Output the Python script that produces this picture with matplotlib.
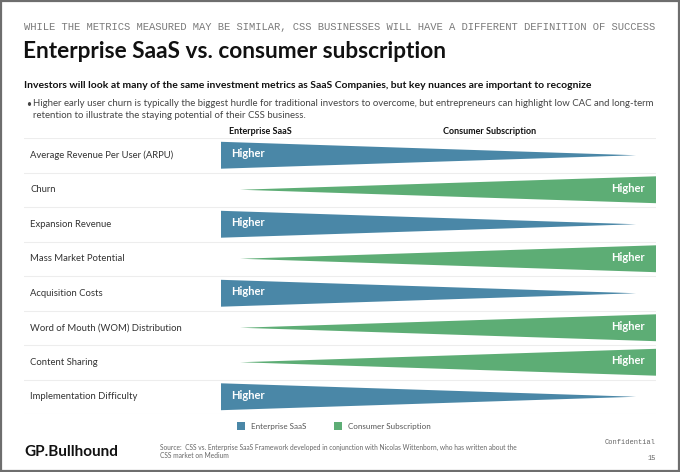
import matplotlib.pyplot as plt
from matplotlib.patches import Rectangle

metrics = [
    'Average Revenue Per User (ARPU)',
    'Churn',
    'Expansion Revenue',
    'Mass Market Potential',
    'Acquisition Costs',
    'Word of Mouth (WOM) Distribution',
    'Content Sharing',
    'Implementation Difficulty',
]
higher_side = [
    'Enterprise SaaS',
    'Consumer Subscription',
    'Enterprise SaaS',
    'Consumer Subscription',
    'Enterprise SaaS',
    'Consumer Subscription',
    'Consumer Subscription',
    'Enterprise SaaS',
]
sides = ['Enterprise SaaS', 'Consumer Subscription']
side_colors = {'Enterprise SaaS': '#4A87A7', 'Consumer Subscription': '#5DAD75'}

W, H = 680, 472
BODY = ['Lato', 'DejaVu Sans']
MONO = ['Liberation Mono', 'DejaVu Sans Mono']


def main():
    fig = plt.figure(figsize=(W / 100, H / 100), dpi=100)

    def fx(px):
        return px / W

    def fy(py):
        return 1 - py / H

    # slide frame
    fig.patches.append(Rectangle((0.001, 0.002), 0.997, 0.995, transform=fig.transFigure,
                                 fill=False, edgecolor='#6E6E6E', linewidth=1.6))

    fig.text(fx(24), fy(27), 'WHILE THE METRICS MEASURED MAY BE SIMILAR, CSS BUSINESSES WILL HAVE A DIFFERENT DEFINITION OF SUCCESS',
             family=MONO, fontsize=7.58, color='#7A7A7A', va='center')
    fig.text(fx(23), fy(51), 'Enterprise SaaS vs. consumer subscription',
             family=BODY, fontsize=16.3, weight='bold', color='#111111', va='center')
    fig.text(fx(24), fy(86), 'Investors will look at many of the same investment metrics as SaaS Companies, '
             'but key nuances are important to recognize',
             family=BODY, fontsize=7.5, weight='bold', color='#111111', va='center')
    fig.text(fx(26), fy(104), '\u2022', family=BODY, fontsize=6.2, color='#444444', va='center')
    fig.text(fx(33), fy(104), 'Higher early user churn is typically the biggest hurdle for traditional investors to overcome, '
             'but entrepreneurs can highlight low CAC and long-term',
             family=BODY, fontsize=6.9, color='#444444', va='center')
    fig.text(fx(33), fy(115), 'retention to illustrate the staying potential of their CSS business.',
             family=BODY, fontsize=6.9, color='#444444', va='center')

    # chart area
    ax = fig.add_axes([fx(24), fy(414), fx(656) - fx(24), fy(138) - fy(414)])
    ax.set_xlim(-(221 - 24) / 435, 1)
    ax.set_ylim(len(metrics) - 0.5, -0.5)
    ax.axis('off')

    for k in range(len(metrics) + 1):
        ax.axhline(k - 0.5, color='#EDEDED', linewidth=0.8)

    half = 0.39
    for i, (name, side) in enumerate(zip(metrics, higher_side)):
        c = side_colors[side]
        ax.text(-0.439, i, name, family=BODY, fontsize=6.8, color='#333333', va='center')
        if side == sides[0]:
            ax.fill([0, 0.954, 0], [i - half, i, i + half], color=c, linewidth=0)
            ax.text(0.023, i - 0.05, 'Higher', family=BODY, fontsize=8, weight='bold',
                    color='white', va='center', ha='left')
        else:
            ax.fill([1, 0.044, 1], [i - half, i, i + half], color=c, linewidth=0)
            ax.text(0.975, i - 0.05, 'Higher', family=BODY, fontsize=8, weight='bold',
                    color='white', va='center', ha='right')

    # column headers
    fig.text(fx(260), fy(131), sides[0], family=BODY, fontsize=6.5, weight='bold',
             color='#111111', ha='center', va='center')
    fig.text(fx(490), fy(131), sides[1], family=BODY, fontsize=6.5, weight='bold',
             color='#111111', ha='center', va='center')

    # legend
    leg_x = [237, 334]
    for s, lx in zip(sides, leg_x):
        fig.patches.append(Rectangle((fx(lx), fy(430)), fx(8), 8 / H, transform=fig.transFigure,
                                     color=side_colors[s], linewidth=0))
        fig.text(fx(lx + 14), fy(426), s, family=BODY, fontsize=5.8, color='#555555', va='center')

    # footer
    fig.text(fx(24), fy(452), 'GP.Bullhound', family=BODY, fontsize=11, weight='bold',
             color='#111111', va='center')
    fig.text(fx(160), fy(447), 'Source:  CSS vs. Enterprise SaaS Framework developed in conjunction with '
             'Nicolas Wittenborn, who has written about the',
             family=BODY, fontsize=4.8, color='#666666', va='center')
    fig.text(fx(160), fy(456), 'CSS market on Medium', family=BODY, fontsize=4.8,
             color='#666666', va='center')
    fig.text(fx(656), fy(443), 'Confidential', family=MONO, fontsize=5.0, color='#666666',
             ha='right', va='center')
    fig.text(fx(656), fy(458), '15', family=MONO, fontsize=5.0, color='#666666',
             ha='right', va='center')

    fig.savefig('out.png', dpi=100)


if __name__ == "__main__":
    main()
